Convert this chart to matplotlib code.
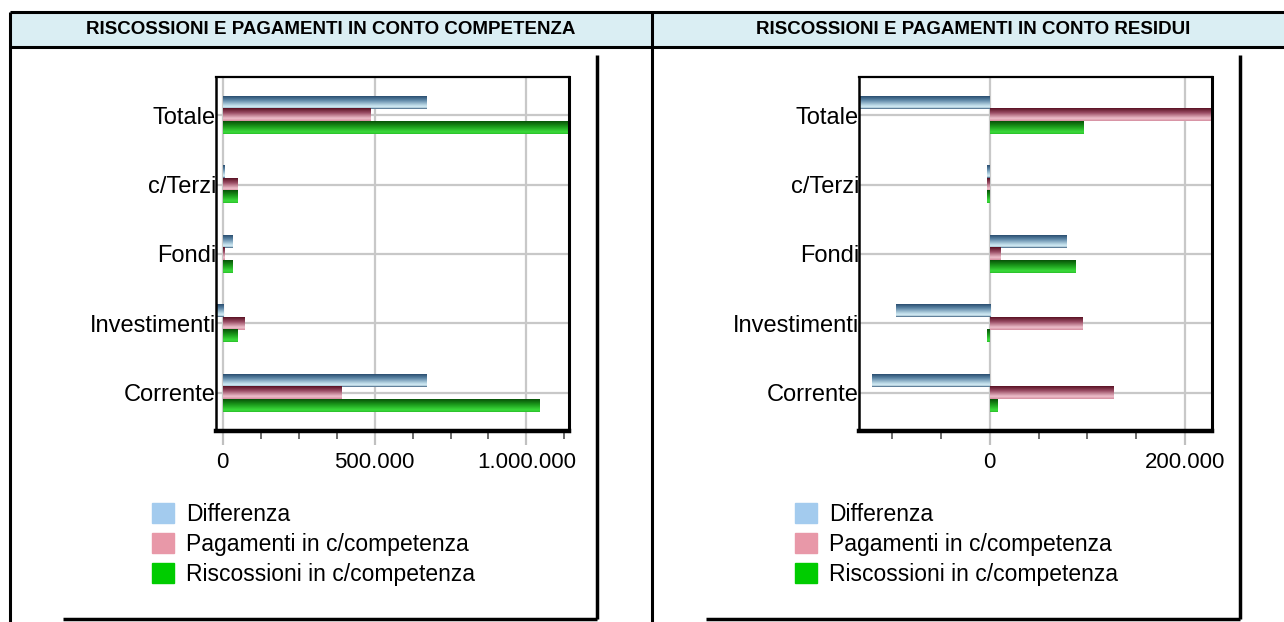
import matplotlib
matplotlib.use("Agg")
import matplotlib.pyplot as plt
import numpy as np
from matplotlib.lines import Line2D
from matplotlib.patches import Rectangle, Patch
from matplotlib.colors import to_rgb
from matplotlib.ticker import MultipleLocator, FuncFormatter

W, H = 1284, 622
FONT = "Liberation Sans"

categories = ["Corrente", "Investimenti", "Fondi", "c/Terzi", "Totale"]

# conto competenza
comp_riscossioni = [1042000, 48000, 32000, 48000, 1157000]
comp_pagamenti = [389000, 70000, 5000, 48000, 486000]
comp_differenza = [671000, -20000, 30000, 5000, 671000]

# conto residui
res_riscossioni = [8000, -3000, 88000, -3000, 96000]
res_pagamenti = [127000, 94500, 11000, -3000, 232000]
res_differenza = [-120500, -96500, 78000, -3000, -136000]

titles = ["RISCOSSIONI E PAGAMENTI IN CONTO COMPETENZA",
          "RISCOSSIONI E PAGAMENTI IN CONTO RESIDUI"]
series_labels = ["Differenza", "Pagamenti in c/competenza", "Riscossioni in c/competenza"]
legend_colors = ["#a3cbee", "#e898a8", "#00cc00"]

# top -> bottom colour stops of the shaded bars
GRADIENTS = [
    [(0.0, "#2b4e70"), (0.3, "#5a84a4"), (0.75, "#c4e0ec"), (0.88, "#d2ebf3"), (1.0, "#3b5e7e")],
    [(0.0, "#5a1224"), (0.35, "#984a62"), (0.8, "#efc0cc"), (1.0, "#d48ea0")],
    [(0.0, "#085208"), (0.4, "#1a961a"), (0.85, "#3cdc3c"), (1.0, "#2ac02a")],
]
BAR_H = 0.18


def px_rect(x0, y0, x1, y1):
    return [x0 / W, 1 - y1 / H, (x1 - x0) / W, (y1 - y0) / H]


def fig_line(fig, xs, ys, lw=2.2, color="black"):
    fig.add_artist(Line2D([x / W for x in xs], [1 - y / H for y in ys],
                          transform=fig.transFigure, color=color, lw=lw,
                          solid_capstyle="butt"))


def gradient_image(stops, n=40):
    pos = np.linspace(0, 1, n)
    img = np.zeros((n, 1, 3))
    ps = [s[0] for s in stops]
    cols = np.array([to_rgb(s[1]) for s in stops])
    for c in range(3):
        img[:, 0, c] = np.interp(pos, ps, cols[:, c])
    return img


def dotted(x, loc):
    return "{:,}".format(int(round(x))).replace(",", ".")


def draw_chart(fig, rect, values, xlim, major, minor, legend_x):
    ax = fig.add_axes(rect)
    ypos = np.arange(len(categories))
    offsets = [BAR_H, 0, -BAR_H]

    for vals, off, stops, col in zip(values, offsets, GRADIENTS, legend_colors):
        bars = ax.barh(ypos + off, vals, height=BAR_H, color=col, zorder=2)
        img = gradient_image(stops)
        for bar in bars:
            # shaded fill, kept inside the axes range
            x0 = max(min(bar.get_x(), bar.get_x() + bar.get_width()), xlim[0])
            x1 = min(max(bar.get_x(), bar.get_x() + bar.get_width()), xlim[1])
            y0 = bar.get_y()
            y1 = y0 + bar.get_height()
            ax.imshow(img, extent=(x0, x1, y0, y1), origin="upper",
                      aspect="auto", interpolation="bilinear", zorder=3)
    ax.set_xlim(*xlim)
    ax.set_ylim(-0.55, len(categories) - 0.45)

    ax.set_yticks(ypos)
    ax.set_yticklabels(categories, fontsize=17, family=FONT)
    ax.tick_params(axis="y", length=0, pad=0)

    ax.xaxis.set_major_locator(MultipleLocator(major))
    ax.xaxis.set_minor_locator(MultipleLocator(minor))
    ax.xaxis.set_major_formatter(FuncFormatter(dotted))
    ax.tick_params(axis="x", which="major", length=10, width=1.6,
                   color="#c0c0c0", pad=5, labelsize=16)
    ax.tick_params(axis="x", which="minor", length=6, width=1.3, color="#606060")
    for lab in ax.get_xticklabels():
        lab.set_family(FONT)

    ax.grid(True, which="major", color="#c8c8c8", lw=1.6, zorder=0)
    ax.set_axisbelow(True)

    ax.spines["left"].set_linewidth(1.8)
    ax.spines["bottom"].set_linewidth(3.2)
    ax.spines["top"].set_linewidth(1.6)
    ax.spines["right"].set_linewidth(2.2)
    for s in ax.spines.values():
        s.set_zorder(5)

    handles = [Patch(facecolor=c, edgecolor=c) for c in legend_colors]
    ax.legend(handles, series_labels, loc="upper left",
              bbox_to_anchor=(legend_x / W, 1 - 503 / H),
              bbox_transform=fig.transFigure, frameon=False,
              prop={"family": FONT, "size": 16.5},
              handlelength=0.95, handleheight=0.95, handletextpad=0.55,
              labelspacing=0.3, borderpad=0, borderaxespad=0)
    return ax


fig = plt.figure(figsize=(W / 100, H / 100), dpi=100)

# table header and borders
fig.add_artist(Rectangle((10 / W, 1 - 47 / H), (W - 10) / W, 35 / H,
                         transform=fig.transFigure, facecolor="#daeef3",
                         edgecolor="none"))
fig_line(fig, [10, W], [12, 12])
fig_line(fig, [10, W], [47, 47])
fig_line(fig, [10, 10], [12, H])
fig_line(fig, [652, 652], [12, H])
fig.text(331 / W, 1 - 29 / H, titles[0], ha="center", va="center",
         fontsize=13.5, fontweight="bold", family=FONT)
fig.text(973 / W, 1 - 29 / H, titles[1], ha="center", va="center",
         fontsize=13.5, fontweight="bold", family=FONT)

# frames of the two chart images
for x_left, x_right in [(63, 597), (706, 1240)]:
    fig_line(fig, [x_right, x_right], [55, 619], lw=2.5)
    fig_line(fig, [x_left, x_right], [619, 619], lw=2.5)

draw_chart(fig, px_rect(216, 77, 569, 431),
           [comp_differenza, comp_pagamenti, comp_riscossioni],
           (-22000, 1140000), 500000, 125000, 152)
draw_chart(fig, px_rect(859, 77, 1212, 431),
           [res_differenza, res_pagamenti, res_riscossioni],
           (-134200, 228000), 200000, 50000, 795)

fig.savefig("out.png", dpi=100)
